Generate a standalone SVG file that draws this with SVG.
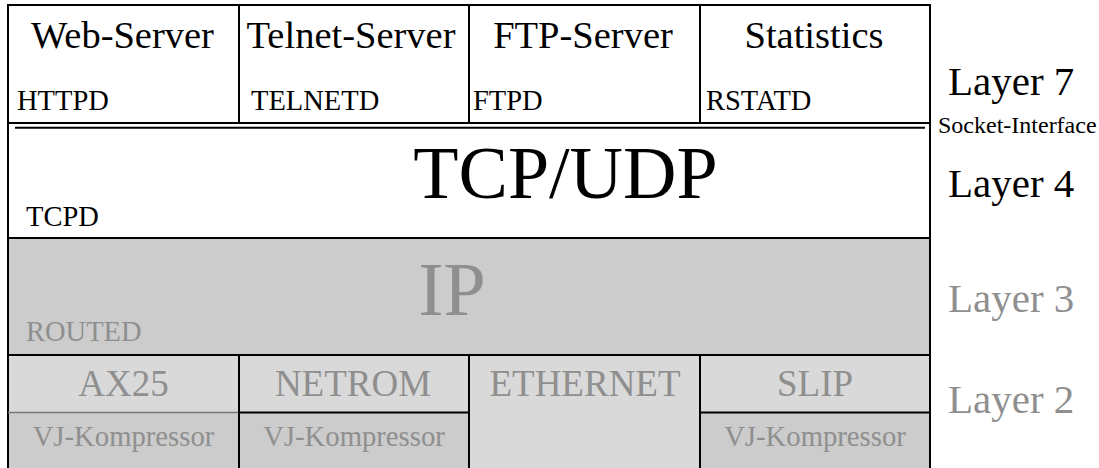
<svg xmlns="http://www.w3.org/2000/svg" width="1099" height="468" viewBox="0 0 1099 468">
<style>
.big{font-size:38.5px;}
.l2{font-size:37px;}
.lay{font-size:41px;}
.mid{font-size:28.5px;}
.vj{font-size:28.7px;}
.blk{fill:#000;}
.gry{fill:#8f8f8f;}
.ln{stroke:#000;stroke-width:2;fill:none;}
.c{text-anchor:middle;}
</style>
<rect width="1099" height="468" fill="#fff"/>
<g font-family="Liberation Serif, Times New Roman, serif">
<g id="layer7">
  <g id="web"><text class="big blk c" x="122.5" y="48">Web-Server</text><text class="mid blk" x="17" y="110">HTTPD</text></g>
  <g id="telnet"><text class="big blk c" x="351" y="48">Telnet-Server</text><text class="mid blk" x="251" y="110">TELNETD</text></g>
  <g id="ftp"><text class="big blk c" x="583" y="48">FTP-Server</text><text class="mid blk" x="473" y="110">FTPD</text></g>
  <g id="stats"><text class="big blk c" x="814" y="48">Statistics</text><text class="mid blk" x="706" y="110">RSTATD</text></g>
</g>
<g id="layer4">
  <text class="blk c" x="565.5" y="198" font-size="74">TCP/UDP</text>
  <text class="mid blk" x="26" y="226">TCPD</text>
</g>
<g id="layer3">
  <rect x="8" y="238" width="922" height="117" fill="#cccccc"/>
  <text class="gry c" x="452" y="315" font-size="76">IP</text>
  <text class="mid gry" x="26" y="341">ROUTED</text>
</g>
<g id="layer2">
  <rect x="8" y="355" width="922" height="113" fill="#d9d9d9"/>
  <rect x="8" y="412.5" width="231" height="56" fill="#cccccc"/>
  <rect x="239" y="412.5" width="230" height="56" fill="#cccccc"/>
  <rect x="700" y="412.5" width="230" height="56" fill="#cccccc"/>
  <g id="ax25"><text class="l2 gry c" x="123.5" y="396">AX25</text><text class="vj gry c" x="123.5" y="446">VJ-Kompressor</text></g>
  <g id="netrom"><text class="l2 gry c" x="353" y="396">NETROM</text><text class="vj gry c" x="354" y="446">VJ-Kompressor</text></g>
  <g id="ethernet"><text class="l2 gry c" x="585" y="396">ETHERNET</text></g>
  <g id="slip"><text class="l2 gry c" x="815" y="396">SLIP</text><text class="vj gry c" x="815" y="446">VJ-Kompressor</text></g>
</g>
<g id="connectors">
  <path class="ln" d="M8 470 V5 H930 V470"/>
  <path class="ln" d="M239 5 V123 M469 5 V123 M700 5 V123"/>
  <path class="ln" d="M8 123 H930"/>
  <path class="ln" d="M15 127.7 H925"/>
  <path class="ln" d="M8 238 H930"/>
  <path class="ln" d="M8 355 H930"/>
  <path d="M8 412.5 H239" stroke="#777" stroke-width="1.5" fill="none"/>
  <path class="ln" d="M239 412.5 H469 M700 412.5 H930"/>
  <path class="ln" d="M239 355 V470 M469 355 V470 M700 355 V470"/>
</g>
<g id="labels">
  <text class="lay blk" x="948" y="95">Layer 7</text>
  <text class="blk" x="938" y="133" font-size="24">Socket-Interface</text>
  <text class="lay blk" x="948" y="197">Layer 4</text>
  <text class="lay gry" x="948" y="312">Layer 3</text>
  <text class="lay gry" x="948" y="413">Layer 2</text>
</g>
</g>
</svg>
